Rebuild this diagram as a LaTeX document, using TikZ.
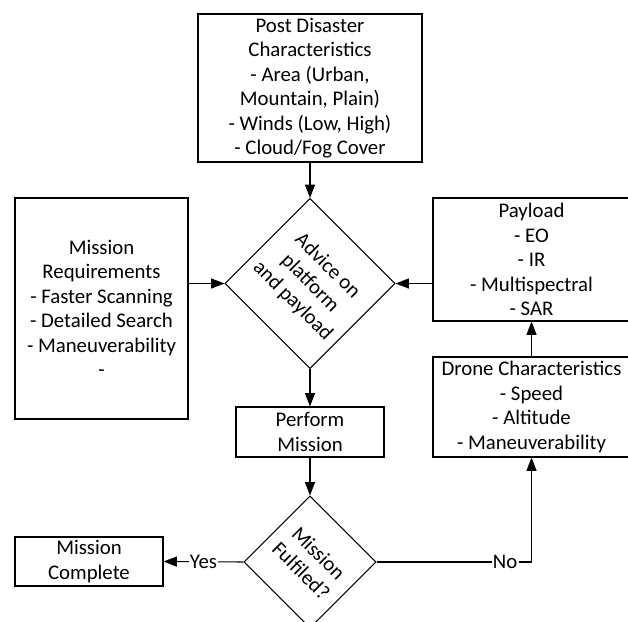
\documentclass[tikz,border=0pt]{standalone}
\usepackage{fontspec}
\setmainfont{Carlito}
\usetikzlibrary{shapes.geometric,arrows.meta}

\tikzset{
  texte/.style={align=center, font=\fontsize{15.6}{18.4}\selectfont},
  boite/.style={texte, draw, line width=0.8pt, inner sep=0pt},
  losange/.style={draw, diamond, line width=0.8pt, inner sep=0pt, minimum width=#1, minimum height=#1},
  fleche/.style={-{Triangle[length=10pt,width=7.5pt]}, line width=0.8pt},
  etiquette/.style={texte, fill=white, inner sep=1pt},
}

\begin{document}
\begin{tikzpicture}[x=0.75pt, y=-0.75pt]
  % cadre de l'image
  \useasboundingbox (0,0) rectangle (628,621);
  \clip (0,0) rectangle (628,621);

  % les boites
  \node[boite, minimum width=168pt, minimum height=111pt] (post) at (310,88)
    {Post Disaster\\Characteristics\\- Area (Urban,\\Mountain, Plain)\\- Winds (Low, High)\\- Cloud/Fog Cover};
  \node[boite, minimum width=129.75pt, minimum height=165.75pt] (req) at (101.5,308.5)
    {Mission\\Requirements\\- Faster Scanning\\- Detailed Search\\- Maneuverability\\-};
  \node[boite, minimum width=147.75pt, minimum height=92.25pt] (payload) at (531.5,259.5)
    {Payload\\- EO\\- IR\\- Multispectral\\- SAR};
  \node[boite, minimum width=147.75pt, minimum height=75pt] (drone) at (531.5,407)
    {Drone Characteristics\\- Speed\\- Altitude\\- Maneuverability};
  \node[boite, minimum width=111pt, minimum height=37.5pt] (perform) at (310,432)
    {Perform\\Mission};
  \node[boite, minimum width=111pt, minimum height=36.75pt] (done) at (89,561.5)
    {Mission\\Complete};

  % les losanges (texte tourne)
  \node[losange=127.5pt] (advice) at (310,283.5) {};
  \node[texte, rotate=-45] (advicetxt) at (advice) {Advice on\\platform\\and payload};
  \node[losange=99pt] (fulfil) at (310,562) {};
  \node[texte, rotate=-45] (fulfiltxt) at (fulfil) {Mission\\Fulfiled?};

  % les fleches
  \draw[fleche] (post) -- (advice);
  \draw[fleche] (advice.west -| req.east) -- (advice.west);
  \draw[fleche] (advice.east -| payload.west) -- (advice.east);
  \draw[fleche] (advice) -- (perform);
  \draw[fleche] (perform) -- (fulfil);
  \draw[fleche] (drone) -- (payload);
  \draw[fleche] (fulfil.west) -- node[etiquette] (yes) {Yes} (done.east);
  \draw[fleche] (fulfil.east) -- node[etiquette, pos=0.83] (no) {No} (fulfil.east -| drone.south) -- (drone.south);
\end{tikzpicture}
\end{document}
